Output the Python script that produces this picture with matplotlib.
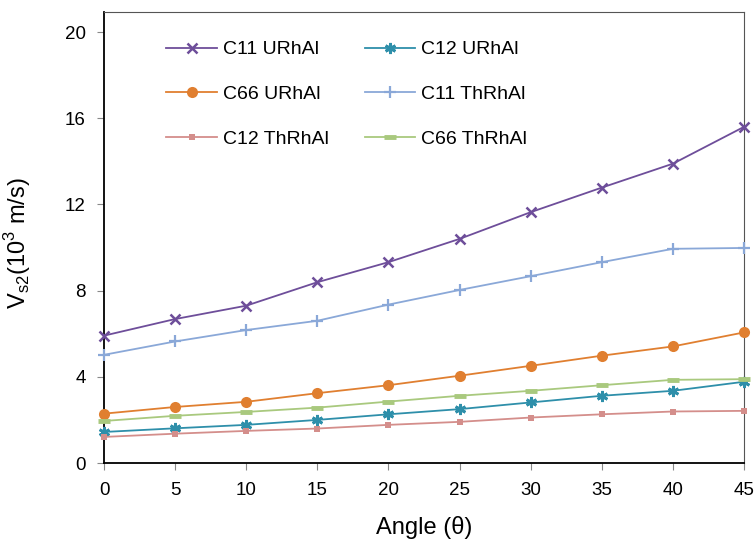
import matplotlib
matplotlib.use("Agg")
import matplotlib.pyplot as plt

plt.rcParams['font.family'] = ['Liberation Sans', 'DejaVu Sans']

angles = [0, 5, 10, 15, 20, 25, 30, 35, 40, 45]

c11_urhal = [5.91, 6.68, 7.30, 8.39, 9.32, 10.40, 11.64, 12.78, 13.89, 15.60]
c12_urhal = [1.44, 1.61, 1.77, 2.00, 2.26, 2.50, 2.81, 3.12, 3.35, 3.77]
c66_urhal = [2.29, 2.60, 2.84, 3.24, 3.61, 4.05, 4.51, 4.98, 5.41, 6.06]
c11_thrhal = [5.02, 5.64, 6.17, 6.60, 7.35, 8.03, 8.67, 9.32, 9.94, 9.98]
c12_thrhal = [1.21, 1.36, 1.49, 1.60, 1.77, 1.91, 2.11, 2.26, 2.39, 2.42]
c66_thrhal = [1.95, 2.19, 2.37, 2.57, 2.85, 3.12, 3.35, 3.61, 3.86, 3.89]

labels = ["C11 URhAl", "C12 URhAl", "C66 URhAl",
          "C11 ThRhAl", "C12 ThRhAl", "C66 ThRhAl"]
yticks = [0, 4, 8, 12, 16, 20]
xticks = [0, 5, 10, 15, 20, 25, 30, 35, 40, 45]

fig = plt.figure(figsize=(7.55, 5.46), dpi=100)
ax = fig.add_axes([104 / 755, 1 - 463 / 546, 640 / 755, 451 / 546])

styles = [
    (c11_urhal, dict(color='#6E4E9A', marker='x', ms=7, mew=1.8)),
    (c12_urhal, dict(color='#2E8FAA', marker=(6, 2, 0), ms=8, mew=2.0)),
    (c66_urhal, dict(color='#E07F30', marker='o', ms=8, mew=0)),
    (c11_thrhal, dict(color='#8AA8D8', marker='+', ms=9, mew=1.6)),
    (c12_thrhal, dict(color='#D48E8B', marker='s', ms=4, mew=0)),
    (c66_thrhal, dict(color='#A9C97E', marker='_', ms=8, mew=3.5)),
]

handles = []
for (vals, st), lab in zip(styles, labels):
    h, = ax.plot(angles, vals, lw=1.3, label=lab, clip_on=False, zorder=3, **st)
    handles.append(h)

ax.set_xlim(0, 45)
ax.set_ylim(0, 20.93)
ax.set_xticks(xticks)
ax.set_yticks(yticks)
ax.tick_params(axis='both', labelsize=13.5, length=5, color='#888888', direction='out')
ax.tick_params(axis='y', pad=8)
ax.tick_params(axis='x', pad=9)

ax.spines['left'].set_color('black')
ax.spines['bottom'].set_color('black')
ax.spines['left'].set_linewidth(1.3)
ax.spines['bottom'].set_linewidth(1.3)
ax.spines['top'].set_color('#555555')
ax.spines['right'].set_color('#555555')

ax.set_xlabel('Angle (θ)', fontsize=17, labelpad=12)
ax.set_ylabel(r'V$_{\mathregular{s2}}$(10$^{\mathregular{3}}$ m/s)', fontsize=17)
ax.yaxis.set_label_coords(-0.111, 0.488)

order = [0, 2, 4, 1, 3, 5]
leg = ax.legend([handles[i] for i in order], [labels[i] for i in order],
                ncol=2, frameon=False, fontsize=14, loc='upper left',
                bbox_to_anchor=(0.070, 0.975), handlelength=2.6, handletextpad=0.3,
                labelspacing=1.4, columnspacing=1.85)

fig.savefig('out.png', dpi=100)
